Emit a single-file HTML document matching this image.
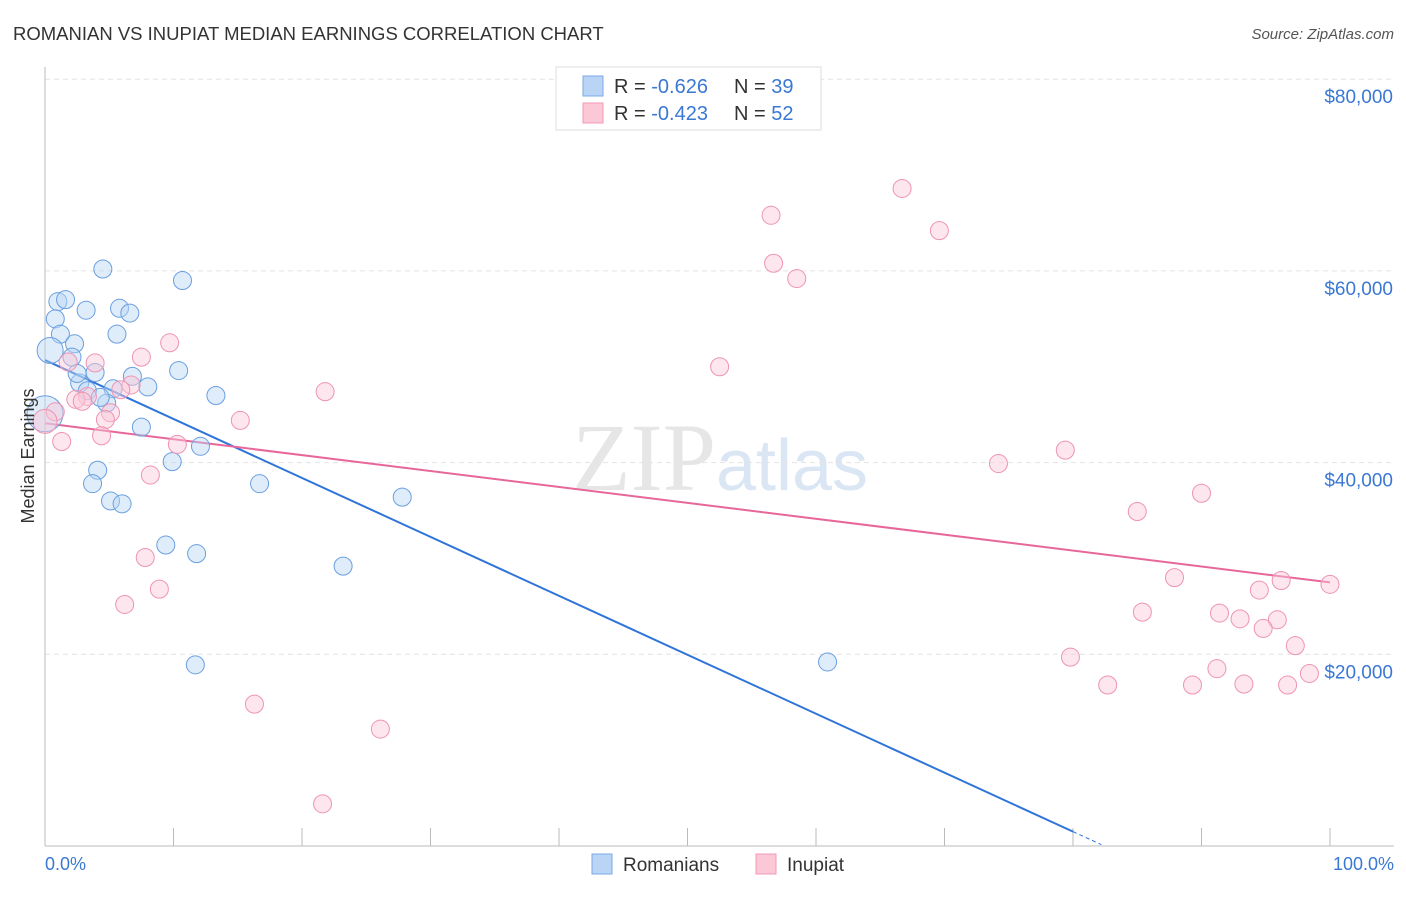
<!DOCTYPE html>
<html><head><meta charset="utf-8">
<style>
html,body{margin:0;padding:0;background:#fff;}
body{width:1406px;height:892px;overflow:hidden;font-family:"Liberation Sans",sans-serif;}
</style></head>
<body>
<svg id="chart" width="1406" height="892" xmlns="http://www.w3.org/2000/svg">
<text x="13" y="40" font-size="18.5" fill="#333" font-family="Liberation Sans, sans-serif">ROMANIAN VS INUPIAT MEDIAN EARNINGS CORRELATION CHART</text>
<text x="1394" y="39" font-size="15" fill="#555" font-style="italic" text-anchor="end">Source: ZipAtlas.com</text>
<text x="720" y="490" font-size="96" text-anchor="middle" fill="#e6e6e6" font-family="Liberation Serif, serif">ZIP<tspan fill="#dbe6f4" font-family="Liberation Sans, sans-serif" font-size="72">atlas</tspan></text>
<g id="grid"></g>
<g id="axes"></g>
<g id="lines"></g>
<g id="points"></g>
<text transform="translate(34,456) rotate(-90)" font-size="18" fill="#333" text-anchor="middle">Median Earnings</text>
<text x="45" y="870" font-size="18" fill="#3a78d4">0.0%</text>
<text x="1394" y="870" font-size="18" fill="#3a78d4" text-anchor="end">100.0%</text>
<g>
<rect x="556" y="67" width="265" height="63" fill="#fff" stroke="#ddd"/>
<rect x="583" y="76" width="20" height="20" fill="#b9d4f5" stroke="#7aa8e6"/>
<rect x="583" y="103" width="20" height="20" fill="#fbc8d8" stroke="#f09ab5"/>
<text x="614" y="93" font-size="20" fill="#333">R = <tspan fill="#3a78d4">-0.626</tspan><tspan x="734">N = </tspan><tspan fill="#3a78d4">39</tspan></text>
<text x="614" y="120" font-size="20" fill="#333">R = <tspan fill="#3a78d4">-0.423</tspan><tspan x="734">N = </tspan><tspan fill="#3a78d4">52</tspan></text>
</g>
<g>
<rect x="592" y="854" width="20" height="20" fill="#b9d4f5" stroke="#7aa8e6"/>
<text x="623" y="871" font-size="19" fill="#333">Romanians</text>
<rect x="756" y="854" width="20" height="20" fill="#fbc8d8" stroke="#f09ab5"/>
<text x="787" y="871" font-size="19" fill="#333">Inupiat</text>
</g>
</svg>
<script>
const yTicks=[20000,40000,60000,80000];
const yTickLabels=["$20,000","$40,000","$60,000","$80,000"];
const xTicks=[0,10,20,30,40,50,60,70,80,90,100];
const romX=[4.5,10.7,1.0,1.6,3.2,5.8,6.6,0.8,1.2,5.6,2.3,0.4,2.1,10.4,3.9,6.8,2.7,8.0,5.3,13.3,4.8,3.3,7.5,0,12.1,9.9,4.1,3.7,16.7,5.1,6.0,27.8,9.4,11.8,23.2,11.7,60.9,2.5,4.3];
const romY=[60200,59000,56800,57000,55900,56100,55600,55000,53400,53400,52400,51700,51000,49600,49400,49000,48300,47900,47700,47000,46200,47500,43700,45100,41700,40100,39200,37800,37800,36000,35700,36400,31400,30500,29200,18900,19200,49300,46800];
const inuX=[66.7,56.5,69.6,56.7,58.5,9.7,52.5,7.5,3.9,1.8,6.7,5.9,21.8,3.3,2.4,2.9,5.1,4.7,15.2,0.8,0,4.4,1.3,10.3,79.4,74.2,8.2,90.0,85.0,7.8,87.9,96.2,100,94.5,8.9,6.2,85.4,91.4,93.0,95.9,94.8,97.3,79.8,91.2,98.4,82.7,89.3,93.3,96.7,16.3,26.1,21.6];
const inuY=[68600,65800,64200,60800,59200,52500,50000,51000,50400,50500,48100,47600,47400,46900,46600,46400,45200,44500,44400,45300,44300,42800,42200,41900,41300,39900,38700,36800,34900,30100,28000,27700,27300,26700,26800,25200,24400,24300,23700,23600,22700,20900,19700,18500,18000,16800,16800,16900,16800,14800,12200,4400];
const trendIntercept=[50700,44100];
const trendSlope=[-615,-166];
const trendEnd=[80,100];
const NS="http://www.w3.org/2000/svg";
const X=v=>45+v*12.85;
const Y=v=>846-v/20000*191.7;
function mk(tag,attrs,parent){const e=document.createElementNS(NS,tag);for(const k in attrs)e.setAttribute(k,attrs[k]);parent.appendChild(e);return e;}
const grid=document.getElementById('grid'),axes=document.getElementById('axes'),lines=document.getElementById('lines'),pts=document.getElementById('points');
yTicks.forEach((t,i)=>{
 const l=mk('line',{x1:45,x2:1394,y1:Y(t),y2:Y(t),stroke:'#e4e4e4','stroke-dasharray':'5,4'},grid);
 
 
 const tx=mk('text',{x:1393,y:Y(t)+24,'font-size':19,fill:'#3a78d4','text-anchor':'end'},axes);
 tx.textContent=yTickLabels[i];
 
 
});
const ya=mk('line',{x1:45,x2:45,y1:67,y2:846,stroke:'#bbb'},axes);


const xa=mk('line',{x1:45,x2:1394,y1:846,y2:846,stroke:'#bbb'},axes);


xTicks.forEach(t=>{
 const l=mk('line',{x1:X(t),x2:X(t),y1:828,y2:846,stroke:'#bbb'},axes);
 
 
});
const colors=[['#b9d4f5','#6a9fe0'],['#fbc8d8','#ee94b2']];
function drawPts(xs,ys,c,name){
 xs.forEach((x,i)=>{
  const big=(name==='romanian-point'&&(i===23))?18:(name==='romanian-point'&&i===11?13:9);
  const r=(name==='inupiat-point'&&i===20)?12:big;
  const e=mk('circle',{cx:X(x),cy:Y(ys[i]),r:r,fill:c[0],'fill-opacity':0.45,stroke:c[1],'stroke-width':1},pts);
  
  
 });
}
drawPts(romX,romY,colors[0],'romanian-point');
drawPts(inuX,inuY,colors[1],'inupiat-point');
const lc=['#2f74d8','#e8679a'];
trendIntercept.forEach((b,i)=>{
 const m=trendSlope[i],e=trendEnd[i];
 const l=mk('line',{x1:X(0),y1:Y(b),x2:X(e),y2:Y(b+m*e),stroke:lc[i],'stroke-width':2},lines);
 
 
 if(e<100){
  const e2=e+2.2;
  const d=mk('line',{x1:X(e),y1:Y(b+m*e),x2:X(e2),y2:Y(Math.max(b+m*e2,0)),stroke:lc[i],'stroke-width':1,'stroke-dasharray':'4,3'},lines);
  
  
 }
});
</script>
</body></html>
